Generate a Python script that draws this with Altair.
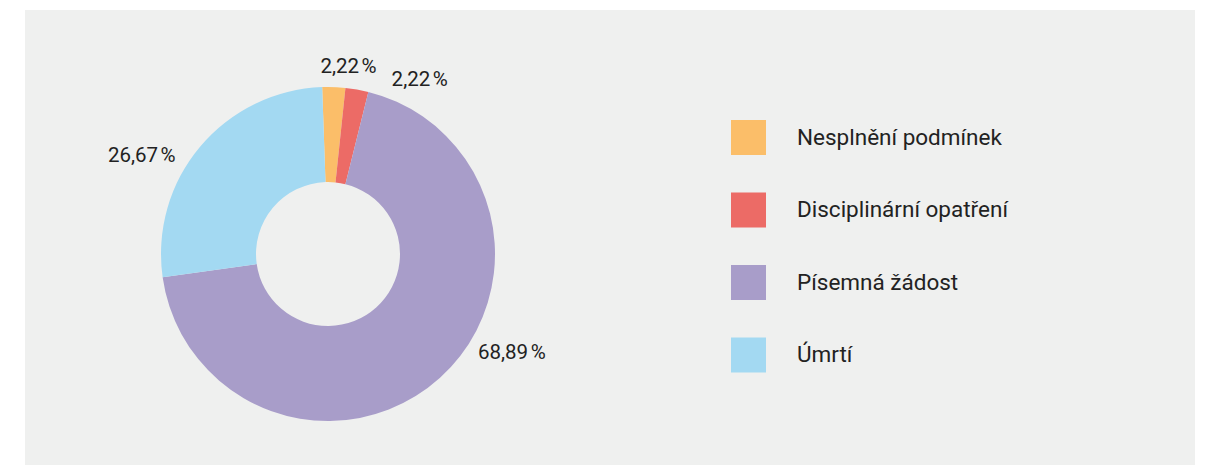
import math
import altair as alt
import pandas as pd

categories = ["Nesplnění podmínek", "Disciplinární opatření", "Písemná žádost", "Úmrtí"]
values = [2.22, 2.22, 68.89, 26.67]
colors = ["#FBBE69", "#EC6B66", "#A89DC9", "#A3D9F2"]

labels = [f"{v:.2f}".replace(".", ",") + "\u202f%" for v in values]

df = pd.DataFrame({
    "category": categories,
    "value": values,
    "label": labels,
    "order": list(range(len(categories))),
})

CX, CY = 303, 244
START = math.radians(-2)
theta_scale = alt.Scale(range=[START, START + 2 * math.pi])

base = alt.Chart(df)

arcs = base.mark_arc(outerRadius=167, innerRadius=72).encode(
    theta=alt.Theta("value:Q", stack=True, scale=theta_scale),
    order=alt.Order("order:Q"),
    color=alt.Color(
        "category:N",
        sort=categories,
        scale=alt.Scale(domain=categories, range=colors),
        legend=alt.Legend(
            title=None,
            orient="none",
            legendX=706,
            legendY=110,
            symbolType="square",
            symbolSize=1225,
            symbolStrokeWidth=0,
            symbolOpacity=1,
            rowPadding=37.5,
            labelOffset=31,
            labelFont="Roboto",
            labelFontSize=22.5,
            labelColor="#222222",
            labelLimit=400,
            padding=0,
        ),
    ),
    x=alt.value(CX),
    y=alt.value(CY),
)


def label_layer(cat, radius, dx, dy):
    return base.mark_text(
        radius=radius, dx=dx, dy=dy, font="Roboto", fontSize=20.5,
        color="#222222", align="center", baseline="middle",
    ).encode(
        theta=alt.Theta("value:Q", stack=True, scale=theta_scale),
        order=alt.Order("order:Q"),
        detail=alt.Detail("category:N"),
        text=alt.condition(alt.datum.category == cat, alt.Text("label:N"), alt.value("")),
        x=alt.value(CX),
        y=alt.value(CY),
    )


texts = [
    label_layer(categories[0], 187, 14, 0),
    label_layer(categories[1], 177, 61, 0),
    label_layer(categories[2], 200, 50, -50),
    label_layer(categories[3], 200, -33, 31),
]

chart = alt.layer(arcs, *texts).properties(
    width=1170,
    height=455,
    padding={"left": 17, "top": 2, "right": 0, "bottom": 0},
    autosize=alt.AutoSizeParams(type="none"),
    background="white",
).configure_view(
    fill="#EFF0EF",
    strokeWidth=0,
)

chart.save("out.html", embed_options={"renderer": "svg", "actions": False})
